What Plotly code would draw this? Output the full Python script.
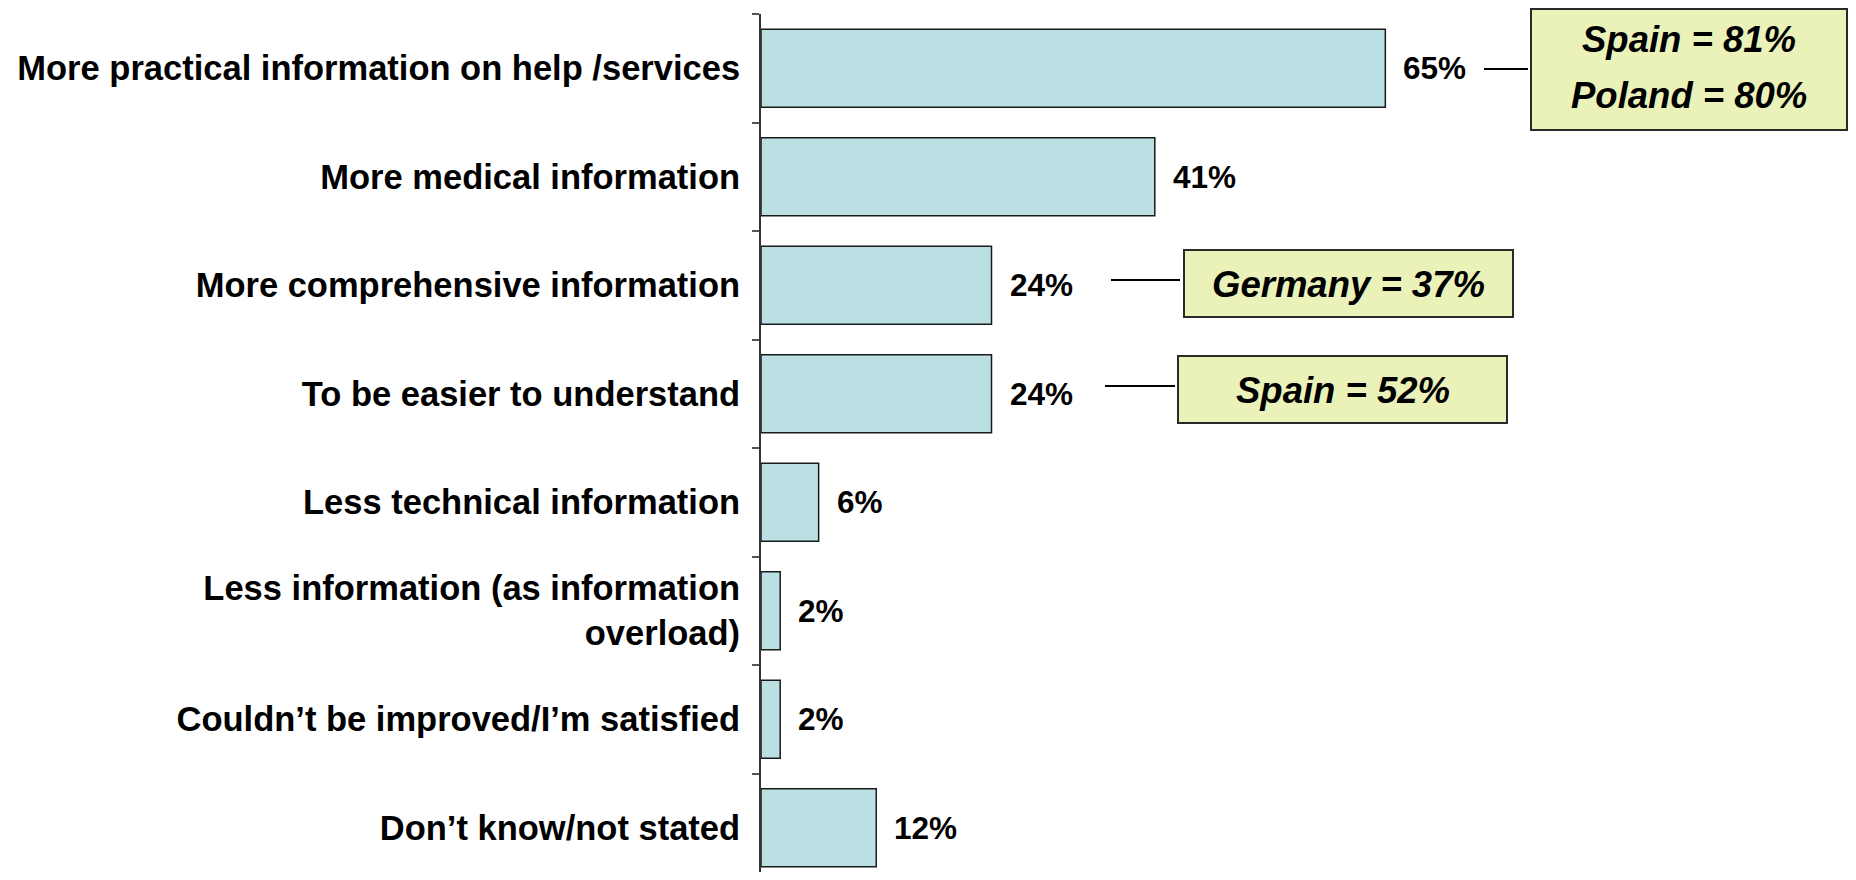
import plotly.graph_objects as go

categories = [
    "More practical information on help /services",
    "More medical information",
    "More comprehensive information",
    "To be easier to understand",
    "Less technical information",
    "Less information (as information<br>overload)",
    "Couldn\u2019t be improved/I\u2019m satisfied",
    "Don\u2019t know/not stated",
]
values = [65, 41, 24, 24, 6, 2, 2, 12]
value_labels = ["65%", "41%", "24%", "24%", "6%", "2%", "2%", "12%"]

callout_lines = [["Spain = 81%", "Poland = 80%"], ["Germany = 37%"], ["Spain = 52%"]]

# page body has an 8px margin; keep the figure inside the 1856x880 window (no scrollbars)
OFF = 8
W, H = 1856 - 2 * OFF, 880 - 2 * OFF
L, T = 761 - OFF, 14 - OFF
PX_PER_PCT = 9.605
BAND = 108.5
XMAX = (W - L) / PX_PER_PCT
Y_BOTTOM = -0.5 + (H - T) / BAND
FONT = "Liberation Sans, Arial, sans-serif"

fig = go.Figure()
fig.add_trace(go.Bar(
    y=categories, x=values, orientation="h",
    marker=dict(color="#BBE0E3", line=dict(color="#1a1a1a", width=1.5)),
    width=0.72, hoverinfo="skip",
))

annotations = []
for c, v, lab in zip(categories, values, value_labels):
    annotations.append(dict(x=v, y=c, xref="x", yref="y", text=lab, showarrow=False,
                            xanchor="left", yanchor="middle", xshift=16,
                            font=dict(family=FONT, size=31.5, color="black", weight="bold")))

def px2x(px):
    return (px - OFF - L) / (W - L)

def py2y(py):
    return 1 - (py - OFF - T) / (H - T)

shapes = []
# callout boxes in page pixels: (x0,y0,x1,y1), connector (x0,x1,y), text line centers
boxes = [
    ((1531, 9, 1847, 130), (1484, 1528, 69), [40, 96]),
    ((1184, 250, 1513, 317), (1111, 1180, 280), [284]),
    ((1178, 356, 1507, 423), (1105, 1175, 386), [390]),
]
for (bx, ln, ys), lines in zip(boxes, callout_lines):
    x0, y0, x1, y1 = bx
    shapes.append(dict(type="rect", xref="paper", yref="paper",
                       x0=px2x(x0), x1=px2x(x1), y0=py2y(y1), y1=py2y(y0),
                       fillcolor="#EAF2BA", line=dict(color="#2a2a2a", width=2), layer="above"))
    shapes.append(dict(type="line", xref="paper", yref="paper",
                       x0=px2x(ln[0]), x1=px2x(ln[1]), y0=py2y(ln[2]), y1=py2y(ln[2]),
                       line=dict(color="black", width=2)))
    for txt, yy in zip(lines, ys):
        annotations.append(dict(x=px2x((x0 + x1) / 2), y=py2y(yy), xref="paper", yref="paper",
                                text="<i>" + txt + "</i>", showarrow=False,
                                xanchor="center", yanchor="middle",
                                font=dict(family=FONT, size=36.5, color="black", weight="bold")))

fig.update_layout(
    width=W, height=H,
    margin=dict(l=L, r=0, t=T, b=0, pad=0),
    paper_bgcolor="white", plot_bgcolor="white",
    showlegend=False,
    shapes=shapes, annotations=annotations,
    xaxis=dict(range=[0, XMAX], visible=False, showgrid=False, zeroline=False, fixedrange=True),
    yaxis=dict(type="category", categoryorder="array", categoryarray=categories,
               range=[Y_BOTTOM, -0.5],
               showline=True, linecolor="#333333", linewidth=2,
               ticks="outside", tickson="boundaries", ticklen=7, tickwidth=2, tickcolor="#555555",
               ticklabelstandoff=12, showgrid=False, zeroline=False,
               tickfont=dict(family=FONT, size=34.5, color="black", weight="bold")),
)

fig.write_html("out.html")
